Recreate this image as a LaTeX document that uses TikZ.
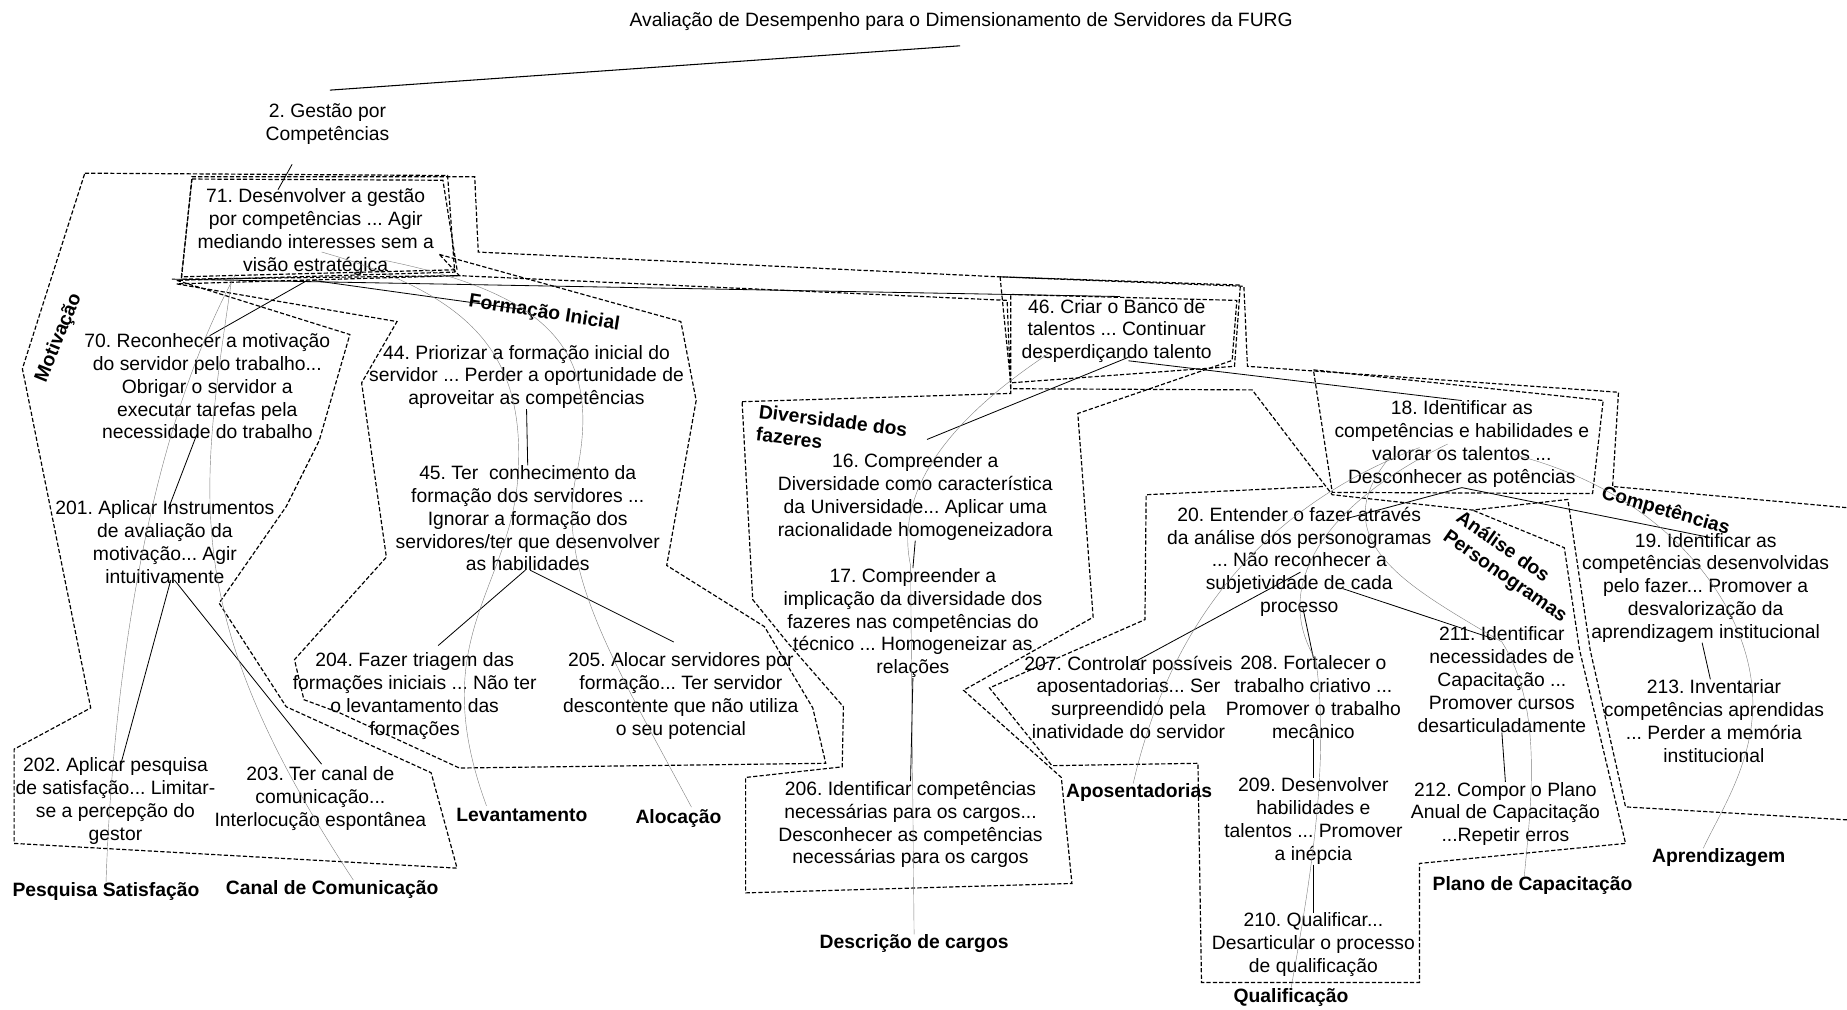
\documentclass[tikz,border=0pt]{standalone}
\usepackage{fontspec}
\setmainfont{Liberation Sans}
\frenchspacing
\begin{document}
\begin{tikzpicture}[x=1pt,y=-1pt,
  txt/.style={font=\fontsize{16.4}{19.4}\selectfont, align=center, inner sep=0pt},
  lbl/.style={font=\fontsize{16.4}{19.4}\selectfont\bfseries, align=center, inner sep=0pt},
  region/.style={draw=black, line width=1pt, dash pattern=on 3.6pt off 1.8pt, line join=miter},
  link/.style={draw=black, line width=0.7pt},
  faint/.style={draw=black!50, line width=0.35pt},
]
\useasboundingbox (0,0) rectangle (1568,857);
\fill[white] (0,0) rectangle (1568,857);

% ---------- concepts ----------
\node[txt] (title) at (816,18) {Avaliação de Desempenho para o Dimensionamento de Servidores da FURG};
\node[txt] (n2) at (278,105) {2. Gestão por\\Competências};
\node[txt] (n71) at (268,197) {71. Desenvolver a gestão\\por competências ... Agir\\mediando interesses sem a\\visão estratégica};
\node[txt] (n70) at (176,328) {70. Reconhecer a motivação\\do servidor pelo trabalho...\\Obrigar o servidor a\\executar tarefas pela\\necessidade do trabalho};
\node[txt] (n44) at (447,320) {44. Priorizar a formação inicial do\\servidor ... Perder a oportunidade de\\aproveitar as competências};
\node[txt] (n45) at (448,440) {45. Ter\ \ conhecimento da\\formação dos servidores ...\\Ignorar a formação dos\\servidores/ter que desenvolver\\as habilidades};
\node[txt] (n201) at (140,460) {201. Aplicar Instrumentos\\de avaliação da\\motivação... Agir\\intuitivamente};
\node[txt] (n204) at (352,591) {204. Fazer triagem das\\formações iniciais ... Não ter\\o levantamento das\\formações};
\node[txt] (n205) at (578,591) {205. Alocar servidores por\\formação... Ter servidor\\descontente que não utiliza\\o seu potencial};
\node[txt] (n202) at (98,680) {202. Aplicar pesquisa\\de satisfação... Limitar-\\se a percepção do\\gestor};
\node[txt] (n203) at (272,678) {203. Ter canal de\\comunicação...\\Interlocução espontânea};
\node[txt] (n46) at (948,281) {46. Criar o Banco de\\talentos ... Continuar\\desperdiçando talento};
\node[txt] (n16) at (777,422) {16. Compreender a\\Diversidade como característica\\da Universidade... Aplicar uma\\racionalidade homogeneizadora};
\node[txt] (n17) at (775,529) {17. Compreender a\\implicação da diversidade dos\\fazeres nas competências do\\técnico ... Homogeneizar as\\relações};
\node[txt] (n206) at (773,700) {206. Identificar competências\\necessárias para os cargos...\\Desconhecer as competências\\necessárias para os cargos};
\node[txt] (n18) at (1241,377) {18. Identificar as\\competências e habilidades e\\valorar os talentos ...\\Desconhecer as potências};
\node[txt] (n20) at (1103,477) {20. Entender o fazer através\\da análise dos personogramas\\... Não reconhecer a\\subjetividade de cada\\processo};
\node[txt] (n207) at (958,592) {207. Controlar possíveis\\aposentadorias... Ser\\surpreendido pela\\inatividade do servidor};
\node[txt] (n208) at (1115,592) {208. Fortalecer o\\trabalho criativo ...\\Promover o trabalho\\mecânico};
\node[txt] (n211) at (1275,577) {211. Identificar\\necessidades de\\Capacitação ...\\Promover cursos\\desarticuladamente};
\node[txt] (n19) at (1448,499) {19. Identificar as\\competências desenvolvidas\\pelo fazer... Promover a\\desvalorização da\\aprendizagem institucional};
\node[txt] (n213) at (1455,612) {213. Inventariar\\competências aprendidas\\... Perder a memória\\institucional};
\node[txt] (n209) at (1115,697) {209. Desenvolver\\habilidades e\\talentos ... Promover\\a inépcia};
\node[txt] (n212) at (1278,691) {212. Compor o Plano\\Anual de Capacitação\\...Repetir erros};
\node[txt] (n210) at (1115,802) {210. Qualificar...\\Desarticular o processo\\de qualificação};

% ---------- cluster names ----------
\node[lbl] (lpesq) at (90,757) {Pesquisa Satisfação};
\node[lbl] (lcanal) at (282,755) {Canal de Comunicação};
\node[lbl] (llev) at (443,692) {Levantamento};
\node[lbl] (laloc) at (576,695) {Alocação};
\node[lbl] (ldesc) at (776,801) {Descrição de cargos};
\node[lbl] (lapos) at (967,673) {Aposentadorias};
\node[lbl] (lplano) at (1301,752) {Plano de Capacitação};
\node[lbl] (lqual) at (1096,847) {Qualificação};
\node[lbl] (lapr) at (1459,728) {Aprendizagem};
\node[lbl, rotate=68] (lmot) at (50,287) {Motivação};
\node[lbl, rotate=-9] (lform) at (462,266) {Formação Inicial};
\node[lbl, rotate=-7, align=left, anchor=north west] (ldiv) at (645,343) {Diversidade dos\\fazeres};
\node[lbl, rotate=-16] (lcomp) at (1414,434) {Competências};
\node[lbl, rotate=-35, align=left] (lana) at (1283,482) {Análise dos\\Personogramas};

% ---------- dashed regions ----------
% Motivação
\draw[region] (72,147) -- (380,149) -- (386,231) -- (150,238) -- (297,284) -- (271,374)
  -- (243,430) -- (186,512) -- (243,600) -- (366,656) -- (388,737) -- (12,716)
  -- (12,636) -- (77,601) -- (19,313) -- cycle;
% box round 71
\draw[region] (163,152) -- (376,153) -- (388,229) -- (154,235) -- cycle;
% Formação Inicial
\draw[region] (373,216) -- (578,273) -- (591,340) -- (566,480) -- (649,532) -- (690,601)
  -- (701,648) -- (390,652) -- (288,605) -- (258,594) -- (250,560) -- (328,473)
  -- (307,325) -- (337,273) -- (150,241) -- (390,234) -- cycle;
% Diversidade dos fazeres
\draw[region] (630,341) -- (858,334) -- (858,250) -- (1050,255) -- (1046,306) -- (915,351)
  -- (928,524) -- (818,586) -- (901,660) -- (910,750) -- (633,758) -- (633,660)
  -- (715,651) -- (716,600) -- (669,546) -- (639,509) -- cycle;
% box round 46
\draw[region] (849,235) -- (1053,242) -- (1048,311) -- (858,325) -- cycle;
% Competências (runs off the right edge)
\draw[region] (1568,696) -- (1380,685) -- (1350,552) -- (1331,424) -- (1250,433) -- (1131,420)
  -- (1063,331) -- (858,330) -- (855,255) -- (390,234) -- (154,237) -- (163,150)
  -- (403,150) -- (406,214) -- (848,235) -- (1056,243) -- (1059,311) -- (1374,333)
  -- (1369,413) -- (1568,431);
% box round 18
\draw[region] (1115,314) -- (1361,340) -- (1352,419) -- (1131,418) -- cycle;
% Análise dos Personogramas
\draw[region] (1123,413) -- (973,420) -- (972,526) -- (840,584) -- (893,650) -- (1017,648)
  -- (1020,834) -- (1205,834) -- (1205,733) -- (1380,716) -- (1341,552) -- (1328,465)
  -- (1250,433);

% ---------- links ----------
\draw[link, line width=0.9pt] ([shift={(2,-11)}]n2.north) -- ([shift={(-1,13)}]title.south);
\draw[link] ([shift={(-30,17)}]n2.south) -- ([shift={(-32,1)}]n71.north);
\draw[link] ([shift={(-122,3)}]n71.south) -- ([shift={(3,-2)}]n46.north);
\draw[link] ([shift={(-7,4)}]n71.south) -- ([shift={(2,2)}]n70.north);
\draw[link] ([shift={(-3,4)}]n71.south) -- ([shift={(-4,-30)}]n44.north);
\draw[link] ([shift={(-9,-4)}]n70.south) -- ([shift={(3,7)}]n201.north);
\draw[link] ([shift={(5,-3)}]n201.south) -- ([shift={(5,4)}]n202.north);
\draw[link] ([shift={(8,-3)}]n201.south) -- ([shift={(1,-2)}]n203.north);
\draw[link] (n44.south) -- (n45.north);
\draw[link] ([shift={(-2,-1)}]n45.south) -- ([shift={(20,-6)}]n204.north);
\draw[link] ([shift={(2,-1)}]n45.south) -- ([shift={(-6,-9)}]n205.north);
\draw[link] ([shift={(10,-5)}]n46.south) -- ([shift={(10,-12)}]n16.north);
\draw[link] ([shift={(10,-2)}]n46.south) -- (n18.north);
\draw[link] (n16.south) -- (n17.north);
\draw[link] (n17.south) -- (n206.north);
\draw[link] (n18.south) -- ([shift={(40,10)}]n20.north);
\draw[link] (n18.south) -- ([shift={(4,4)}]n19.north);
\draw[link] ([shift={(1,-38)}]n20.south) -- ([shift={(4,6)}]n207.north);
\draw[link] ([shift={(3,-8)}]n20.south) -- ([shift={(0,2)}]n208.north);
\draw[link] ([shift={(37,-24)}]n20.south) -- ([shift={(-8,10)}]n211.north);
\draw[link] (n208.south) -- (n209.north);
\draw[link] (n209.south) -- (n210.north);
\draw[link] (n211.south) -- (n212.north);
\draw[link] ([xshift=-3pt]n19.south) -- ([xshift=-3pt]n213.north);

% ---------- faint traces to the cluster names ----------
\draw[faint] ([shift={(-68,-1)}]n71.south) .. controls (120,380) and (95,600) .. (lpesq.north);
\draw[faint] ([shift={(-71,1)}]n71.south) .. controls (170,420) and (150,520) .. ([xshift=18pt]lcanal.north);
\draw[faint] ([shift={(5,-20)}]n71.south) .. controls (400,250) and (445,300) .. (440,400)
  .. controls (435,500) and (360,540) .. ([shift={(-30,-2)}]llev.north);
\draw[faint] ([shift={(58,-13)}]n71.south) .. controls (470,250) and (510,300) .. (490,400)
  .. controls (470,480) and (520,560) .. ([shift={(11,-2)}]laloc.north);
\draw[faint] ([shift={(-58,-8)}]n46.south) .. controls (800,360) and (760,420) .. (773,480)
  -- (ldesc.north);
\draw[faint] ([shift={(-36,-34)}]n18.south) .. controls (1100,420) and (1000,500) .. ([xshift=-5pt]lapos.north);
\draw[faint] ([shift={(-12,-37)}]n18.south) .. controls (1120,430) and (1080,500) .. (1117,560)
  .. controls (1130,650) and (1110,760) .. (lqual.north);
\draw[faint] ([shift={(-61,-26)}]n18.south) .. controls (1120,460) and (1200,500) .. (1275,545)
  .. controls (1310,600) and (1300,680) .. ([xshift=-7pt]lplano.north);
\draw[faint] ([shift={(44,-28)}]n18.south) .. controls (1420,420) and (1490,520) .. (1488,600)
  .. controls (1487,650) and (1460,690) .. ([xshift=-13pt]lapr.north);
\end{tikzpicture}
\end{document}
